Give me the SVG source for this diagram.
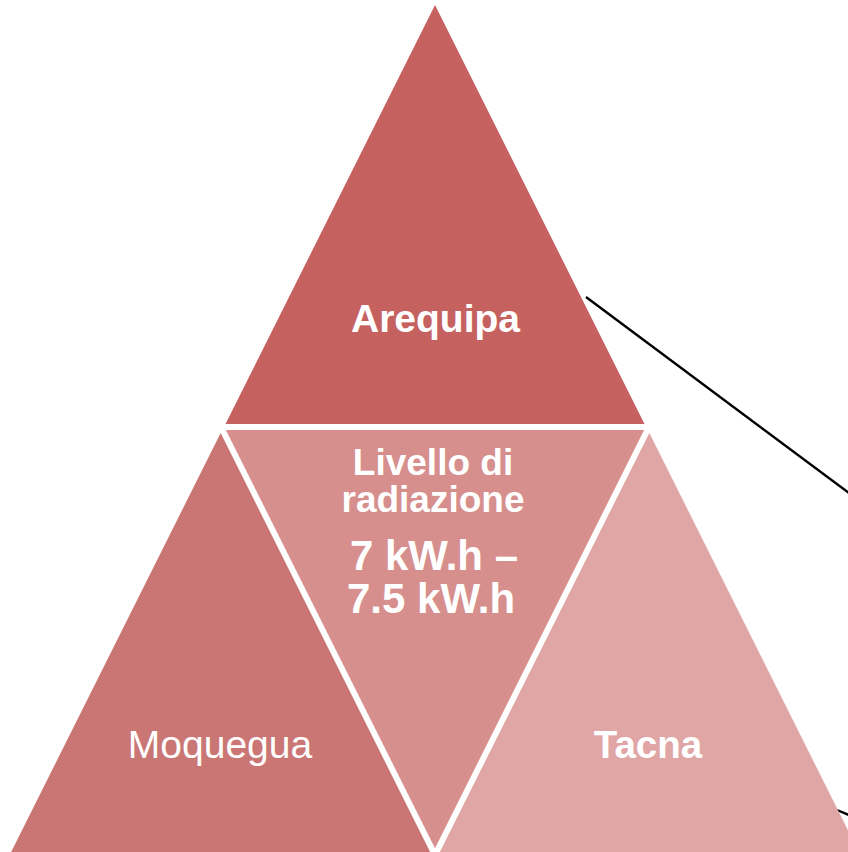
<svg xmlns="http://www.w3.org/2000/svg" width="848" height="852" viewBox="0 0 848 852">
<style>
.t{font-family:"Liberation Sans",Arial,sans-serif;fill:#fff;text-anchor:middle}
.b{font-weight:bold}
.c{stroke:#000;stroke-width:2.4;fill:none}
</style>
<rect width="848" height="852" fill="#fff"/>
<g id="connectors">
<line class="c" x1="586" y1="297" x2="849" y2="493"/>
<line class="c" x1="837" y1="810" x2="849" y2="815"/>
</g>
<g id="moquegua">
<polygon points="220.65,433 11.15,852 430.15,852" fill="#CA7674"/>
<text class="t" x="220" y="758" font-size="39">Moquegua</text>
</g>
<g id="tacna">
<polygon points="649.35,433 439.85,852 858.85,852" fill="#DFA6A5"/>
<text class="t b" x="648" y="758" font-size="38.5">Tacna</text>
</g>
<g id="arequipa">
<polygon points="435,5 225.5,424 644.5,424" fill="#C5615F"/>
<text class="t b" x="435.5" y="332" font-size="39">Arequipa</text>
</g>
<g id="livello">
<polygon points="225.85,430 644.15,430 435,848.3" fill="#D68F8D"/>
<text class="t b" x="433" y="475" font-size="37">Livello di</text>
<text class="t b" x="433" y="512" font-size="37">radiazione</text>
<text class="t b" x="434" y="570" font-size="42">7 kW.h –</text>
<text class="t b" x="431" y="613" font-size="42">7.5 kW.h</text>
</g>
</svg>
